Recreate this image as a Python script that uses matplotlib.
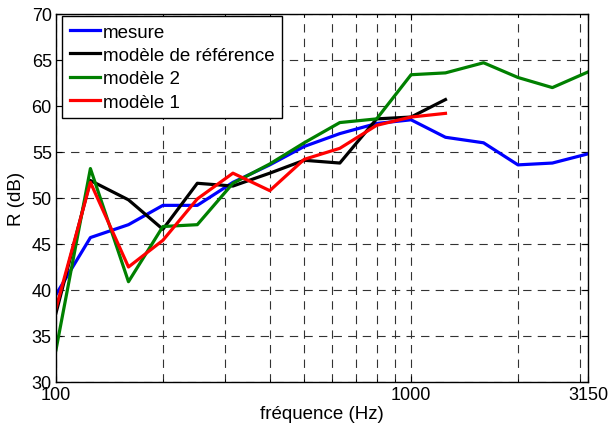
import matplotlib
matplotlib.use("Agg")
import matplotlib.pyplot as plt
from matplotlib.ticker import NullFormatter

plt.rcParams['font.family'] = ['Liberation Sans', 'DejaVu Sans']
plt.rcParams['lines.scale_dashes'] = False

# third-octave band centre frequencies (Hz)
freq = [100, 125, 160, 200, 250, 315, 400, 500, 630, 800,
        1000, 1250, 1600, 2000, 2500, 3150]

# sound reduction index R (dB)
mesure = [39.5, 45.7, 47.1, 49.2, 49.2, 51.7, 53.6, 55.6, 57.0, 58.1,
          58.5, 56.6, 56.0, 53.6, 53.8, 54.8]
reference = [37.5, 51.9, 49.8, 46.6, 51.6, 51.3, 52.7, 54.1, 53.8, 58.6,
             58.8, 60.7]
modele2 = [33.5, 53.2, 40.9, 46.9, 47.1, 51.6, 53.7, 56.0, 58.2, 58.6,
           63.4, 63.6, 64.7, 63.1, 62.0, 63.7]
modele1 = [38.0, 51.7, 42.5, 45.4, 49.9, 52.7, 50.8, 54.2, 55.4, 57.9,
           58.8, 59.2]

xticks = [100, 1000, 3150]
yticks = [30, 35, 40, 45, 50, 55, 60, 65, 70]

fig = plt.figure(figsize=(6.08, 4.27), dpi=100)
ax = fig.add_axes([56/608, 1-383/427, (588-56)/608, (383-15)/427])

lw = 2.3
ax.plot(freq, mesure, color=(0, 0, 1), lw=lw, label="mesure")
ax.plot(freq[:len(reference)], reference, color="k", lw=lw,
        label="modèle de référence")
ax.plot(freq, modele2, color=(0, 0.5, 0), lw=lw, label="modèle 2")
ax.plot(freq[:len(modele1)], modele1, color=(1, 0, 0), lw=lw,
        label="modèle 1")

ax.set_xscale("log")
ax.set_xlim(100, 3150)
ax.set_ylim(30, 70)
ax.set_xticks(xticks)
ax.set_xticklabels([str(t) for t in xticks])
ax.xaxis.set_minor_formatter(NullFormatter())
ax.set_yticks(yticks)

ax.grid(True, which="both", color="0.2", lw=0.8, linestyle=(0, (6, 4.5)))
ax.set_axisbelow(True)
for s in ax.spines.values():
    s.set_linewidth(1.0)

ax.tick_params(which="both", direction="in", top=True, right=True,
               labelsize=13, colors="k")
ax.tick_params(which="major", length=4, pad=3)
ax.tick_params(which="minor", length=2.5)

ax.set_xlabel("fréquence (Hz)", fontsize=13.5, labelpad=1)
ax.set_ylabel("R (dB)", fontsize=13.5, labelpad=5)

leg = ax.legend(loc="upper left", bbox_to_anchor=(62/608, 1-17/427),
                bbox_transform=fig.transFigure, fontsize=13.5,
                frameon=True, fancybox=False, framealpha=1,
                edgecolor="k", borderaxespad=0, borderpad=0.4,
                labelspacing=0.33, handlelength=1.6, handletextpad=0.2)
leg.get_frame().set_linewidth(1.0)

fig.savefig("out.png", dpi=100)
